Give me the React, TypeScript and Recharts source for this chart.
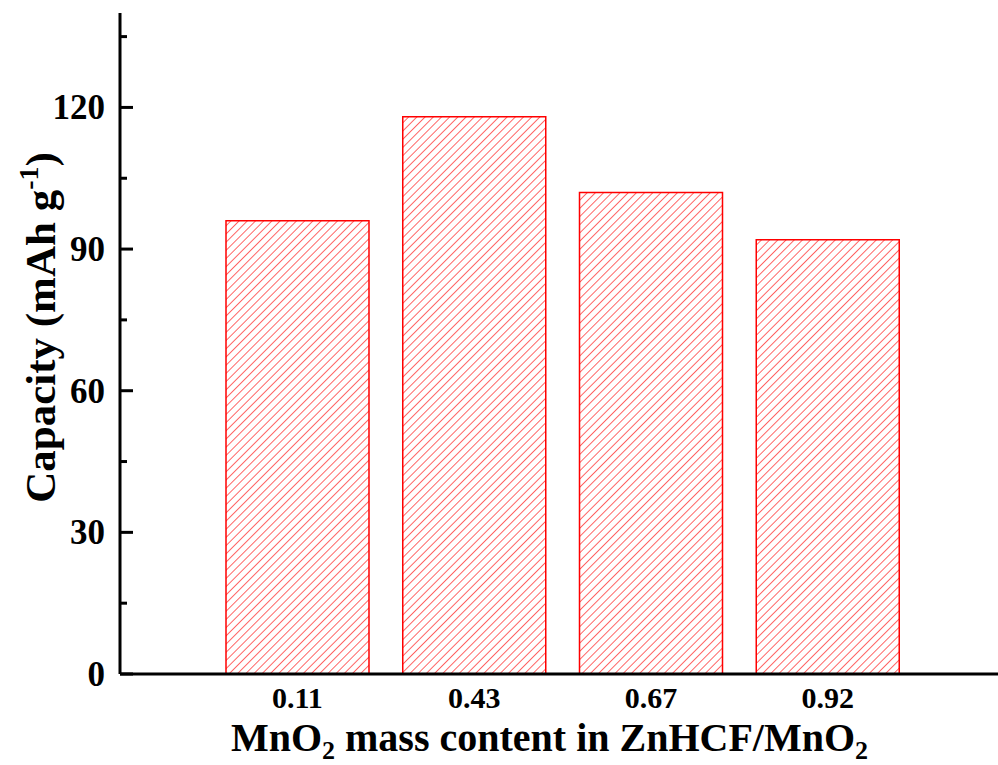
import React from "react";
import { BarChart, Bar, XAxis, YAxis } from "recharts";

const contents = ["0.11", "0.43", "0.67", "0.92"];
const capacity = [96, 118, 102, 92];
const yTicks = [0, 15, 30, 45, 60, 75, 90, 105, 120, 135];

const data = contents.map((c, i) => ({ name: c, cap: capacity[i] }));

const FONT = "'Liberation Serif', 'Times New Roman', serif";
const PLOT_LEFT = 120;

const YTick = (props: any) => {
  const { x, y, payload } = props;
  const major = payload.value % 30 === 0;
  return (
    <g>
      <line
        x1={PLOT_LEFT}
        x2={PLOT_LEFT + (major ? 13 : 7)}
        y1={y}
        y2={y}
        stroke="#000"
        strokeWidth={3}
      />
      {major && (
        <text
          x={x}
          y={y}
          dy={12}
          textAnchor="end"
          fontFamily={FONT}
          fontWeight="bold"
          fontSize={35}
          fill="#000"
        >
          {payload.value}
        </text>
      )}
    </g>
  );
};

const XTick = (props: any) => {
  const { x, y, payload } = props;
  return (
    <text
      x={x}
      y={y}
      dy={20}
      textAnchor="middle"
      fontFamily={FONT}
      fontWeight="bold"
      fontSize={30}
      fill="#000"
    >
      {payload.value}
    </text>
  );
};

const XTitle = (props: any) => {
  const { viewBox } = props;
  const cx = viewBox.x + viewBox.width / 2 - 13;
  return (
    <text
      x={cx}
      y={751}
      textAnchor="middle"
      fontFamily={FONT}
      fontWeight="bold"
      fontSize={40}
      fill="#000"
    >
      MnO<tspan fontSize={26} dy={8}>2</tspan>
      <tspan dy={-8}> mass content in ZnHCF/MnO</tspan>
      <tspan fontSize={26} dy={8}>2</tspan>
    </text>
  );
};

const YTitle = (props: any) => {
  const { viewBox } = props;
  const cy = viewBox.y + viewBox.height / 2 - 16;
  return (
    <text
      transform={`translate(55,${cy}) rotate(-90)`}
      textAnchor="middle"
      fontFamily={FONT}
      fontWeight="bold"
      fontSize={43}
      fill="#000"
    >
      Capacity (mAh g<tspan fontSize={28} dy={-17}>-1</tspan>
      <tspan dy={17}>)</tspan>
    </text>
  );
};

export default function App() {
  return (
    <div
      style={{
        position: "absolute",
        left: 0,
        top: 0,
        width: 998,
        height: 765,
        overflow: "hidden",
        background: "#fff",
      }}
    >
      <svg width={0} height={0} style={{ position: "absolute" }}>
        <defs>
          <pattern
            id="hatch"
            patternUnits="userSpaceOnUse"
            width={5.8}
            height={5.8}
            patternTransform="rotate(45)"
          >
            <line x1={0} y1={0} x2={0} y2={5.8} stroke="#ff0000" strokeWidth={1.2} />
          </pattern>
        </defs>
      </svg>
      <BarChart
        width={1010}
        height={765}
        data={data}
        margin={{ top: 13, right: 5, bottom: 0, left: 0 }}
      >
        <XAxis
          dataKey="name"
          height={91}
          padding={{ left: 89, right: 89 }}
          axisLine={{ stroke: "#000", strokeWidth: 3 }}
          tickLine={false}
          tickSize={0}
          tickMargin={14}
          tick={<XTick />}
          interval={0}
          label={<XTitle />}
        />
        <XAxis
          xAxisId="top"
          dataKey="name"
          orientation="top"
          height={0}
          axisLine={{ stroke: "#000", strokeWidth: 3 }}
          tickLine={false}
          tick={false}
        />
        <YAxis
          width={120}
          domain={[0, 140]}
          ticks={yTicks}
          interval={0}
          axisLine={{ stroke: "#000", strokeWidth: 3 }}
          tickLine={false}
          tickSize={0}
          tickMargin={15}
          tick={<YTick />}
          label={<YTitle />}
        />
        <Bar
          dataKey="cap"
          barSize={143}
          fill="url(#hatch)"
          stroke="#ff0000"
          strokeWidth={1.5}
          isAnimationActive={false}
        />
      </BarChart>
    </div>
  );
}
